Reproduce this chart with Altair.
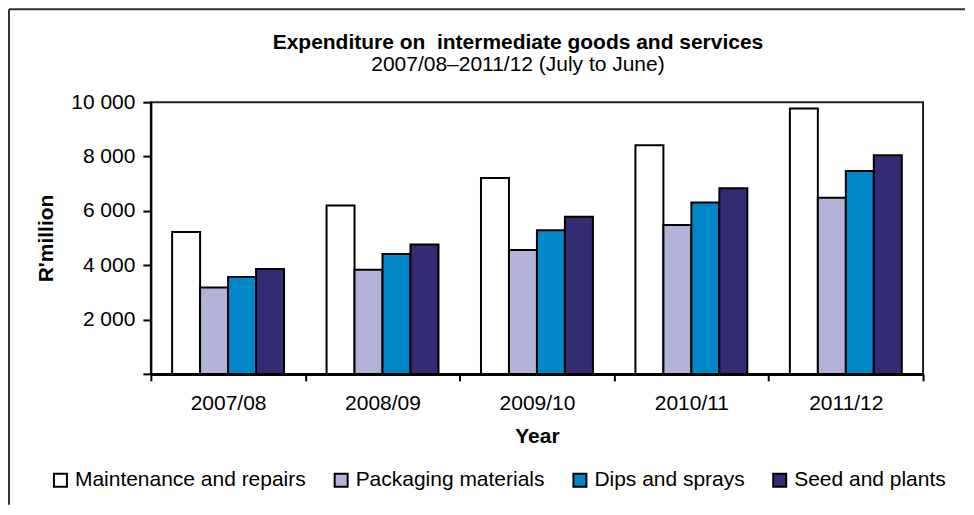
import altair as alt
import pandas as pd

years = ["2007/08", "2008/09", "2009/10", "2010/11", "2011/12"]
series = ["Maintenance and repairs", "Packaging materials", "Dips and sprays", "Seed and plants"]
colors = ["#FFFFFF", "#B3B3D9", "#0087C9", "#332C72"]

maintenance = [5220, 6200, 7210, 8410, 9770]
packaging = [3180, 3830, 4560, 5480, 6480]
dips = [3570, 4410, 5290, 6310, 7470]
seed = [3860, 4760, 5780, 6830, 8050]

rows = []
for name, vals in zip(series, [maintenance, packaging, dips, seed]):
    for y, v in zip(years, vals):
        rows.append({"Year": y, "Series": name, "Value": v})
df = pd.DataFrame(rows)

FONT = "Liberation Sans"

bars = alt.Chart(df).mark_bar(stroke="#000000", strokeWidth=2).encode(
    x=alt.X("Year:N", sort=years,
            scale=alt.Scale(paddingInner=0, paddingOuter=0),
            axis=alt.Axis(title="Year", labelAngle=0, tickBand="extent",
                          tickSize=7, tickWidth=2, tickColor="#000000",
                          domainColor="#000000", domainWidth=3,
                          labelFontSize=21, labelFont=FONT, labelColor="#000000",
                          labelPadding=12, titleFontSize=21, titleFont=FONT,
                          titleFontWeight="bold", titleColor="#000000",
                          titlePadding=12)),
    xOffset=alt.XOffset("Series:N", sort=series,
                        scale=alt.Scale(paddingInner=0, paddingOuter=0.76)),
    y=alt.Y("Value:Q",
            scale=alt.Scale(domain=[0, 10000], nice=False),
            axis=alt.Axis(title="R'million", values=[0, 2000, 4000, 6000, 8000, 10000],
                          labelExpr="datum.value == 0 ? '' : replace(format(datum.value, ','), ',', ' ')",
                          grid=False, tickSize=8, tickWidth=2, tickColor="#000000",
                          domainColor="#000000", domainWidth=2,
                          labelFontSize=21, labelFont=FONT, labelColor="#000000",
                          labelPadding=8, titleFontSize=21, titleFont=FONT,
                          titleFontWeight="bold", titleColor="#000000",
                          titlePadding=14)),
    color=alt.Color("Series:N", sort=series,
                    scale=alt.Scale(domain=series, range=colors),
                    legend=alt.Legend(title=None, orient="none", direction="horizontal",
                                      legendX=-101, legendY=368,
                                      symbolType="square", symbolSize=169,
                                      symbolStrokeColor="#000000", symbolStrokeWidth=2,
                                      labelFontSize=21, labelFont=FONT, labelColor="#000000",
                                      labelLimit=0,
                                      labelOffset=4, columnPadding=24, padding=0)),
)

one = pd.DataFrame({"k": [0]})
frame_top = alt.Chart(one).mark_rule(color="#333333", strokeWidth=2).encode(
    x=alt.value(-142), x2=alt.value(815), y=alt.value(-93)
)
frame_left = alt.Chart(one).mark_rule(color="#333333", strokeWidth=2).encode(
    x=alt.value(-142), y=alt.value(-93), y2=alt.value(403)
)

chart = alt.layer(bars, frame_top, frame_left).properties(
    width=773,
    height=272,
    padding=0,
    background="#FFFFFF",
    title=alt.TitleParams(
        text="Expenditure on \u00a0intermediate goods and services",
        subtitle="2007/08\u20132011/12 (July to June)",
        fontSize=21, font=FONT, fontWeight="bold", color="#000000",
        subtitleFontSize=21, subtitleFont=FONT, subtitleColor="#000000",
        subtitlePadding=1, anchor="middle", frame="group", dx=-19, dy=71,
    ),
).configure_view(stroke="#222222", strokeWidth=2)

chart.save("out.html", embed_options={"renderer": "svg", "actions": False})
